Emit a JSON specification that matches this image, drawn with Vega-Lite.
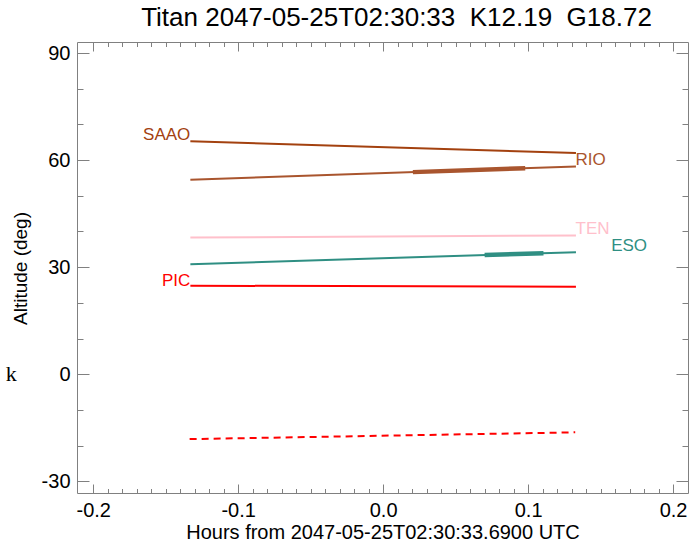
{
  "$schema": "https://vega.github.io/schema/vega-lite/v6.json",
  "width": 611,
  "height": 451,
  "autosize": {"type": "none"},
  "padding": {"left": 77, "top": 42, "right": 12, "bottom": 48},
  "background": "white",
  "title": {"text": "Titan 2047-05-25T02:30:33\u00a0\u00a0K12.19\u00a0\u00a0G18.72", "font": "Liberation Sans", "fontSize": 26, "fontWeight": "normal", "color": "black", "offset": 11, "dx": 14},
  "config": {
    "view": {"stroke": "#808080", "strokeWidth": 1},
    "font": "Liberation Sans",
    "axis": {"grid": false, "domain": false, "tickColor": "#808080", "tickWidth": 1, "labelColor": "black", "titleColor": "black", "titleFontWeight": "normal", "labelFont": "Liberation Sans", "titleFont": "Liberation Sans", "labelFlush": false}
  },
  "datasets": {
    "paths": [
      {"station": "SAAO", "seg": "track", "hours": -0.133, "alt": 65.3},
      {"station": "SAAO", "seg": "track", "hours": 0.133, "alt": 62.0},
      {"station": "RIO", "seg": "track", "hours": -0.133, "alt": 54.5},
      {"station": "RIO", "seg": "track", "hours": 0.133, "alt": 58.2},
      {"station": "RIO", "seg": "obs", "hours": 0.0205, "alt": 56.63},
      {"station": "RIO", "seg": "obs", "hours": 0.098, "alt": 57.71},
      {"station": "TEN", "seg": "track", "hours": -0.133, "alt": 38.3},
      {"station": "TEN", "seg": "track", "hours": 0.133, "alt": 38.9},
      {"station": "ESO", "seg": "track", "hours": -0.133, "alt": 30.8},
      {"station": "ESO", "seg": "track", "hours": 0.133, "alt": 34.2},
      {"station": "ESO", "seg": "obs", "hours": 0.07, "alt": 33.39},
      {"station": "ESO", "seg": "obs", "hours": 0.1106, "alt": 33.92},
      {"station": "PIC", "seg": "track", "hours": -0.133, "alt": 24.8},
      {"station": "PIC", "seg": "track", "hours": 0.133, "alt": 24.5},
      {"station": "PIC", "seg": "below", "hours": -0.1335, "alt": -18.2},
      {"station": "PIC", "seg": "below", "hours": 0.1325, "alt": -16.3}
    ],
    "labels": [
      {"station": "SAAO", "hours": -0.1493, "alt": 67.1},
      {"station": "RIO", "hours": 0.1431, "alt": 59.9},
      {"station": "TEN", "hours": 0.1445, "alt": 40.6},
      {"station": "ESO", "hours": 0.1697, "alt": 35.8},
      {"station": "PIC", "hours": -0.1428, "alt": 26.0}
    ],
    "side": [
      {"text": "k", "hours": -0.2565, "alt": 0}
    ]
  },
  "layer": [
    {
      "mark": {"type": "rule", "color": "#808080", "strokeWidth": 1},
      "encoding": {
        "y": {"datum": 0, "type": "quantitative", "scale": {"domain": [-33.3, 93.1], "nice": false, "zero": false}, "axis": null}
      }
    },
    {
      "data": {"name": "paths"},
      "transform": [{"filter": "datum.seg == 'track'"}],
      "mark": {"type": "line", "strokeWidth": 2},
      "encoding": {
        "x": {
          "field": "hours", "type": "quantitative",
          "scale": {"domain": [-0.2112, 0.2103], "nice": false, "zero": false},
          "axis": {
            "orient": "bottom",
            "title": "Hours from 2047-05-25T02:30:33.6900 UTC",
            "values": [-0.2, -0.1, 0, 0.1, 0.2],
            "labelExpr": "round(datum.value*10) < 0 ? '-' + format(-datum.value, '.1f') : format(abs(datum.value), '.1f')",
            "tickSize": -9,
            "labelFontSize": 20, "titleFontSize": 20, "labelPadding": 16, "titlePadding": 2
          }
        },
        "y": {
          "field": "alt", "type": "quantitative",
          "scale": {"domain": [-33.3, 93.1], "nice": false, "zero": false},
          "axis": {
            "orient": "left",
            "title": "Altitude (deg)",
            "values": [-30, 0, 30, 60, 90],
            "labelExpr": "datum.value < 0 ? '-' + format(-datum.value, 'd') : format(datum.value, 'd')",
            "tickSize": -12,
            "labelFontSize": 20, "titleFontSize": 19, "labelPadding": 19,
            "titleX": -57, "titleY": 226, "titleAngle": -90, "titleAlign": "center", "titleBaseline": "middle"
          }
        },
        "color": {"field": "station", "type": "nominal", "legend": null,
          "scale": {"domain": ["SAAO", "RIO", "TEN", "ESO", "PIC"], "range": ["#A3410F", "#A9552E", "#FFC0CB", "#2F8F83", "#FF0000"]}},
        "detail": {"field": "station"}
      }
    },
    {
      "data": {"name": "paths"},
      "transform": [{"filter": "datum.seg == 'obs'"}],
      "mark": {"type": "line", "strokeWidth": 4.5},
      "encoding": {
        "x": {
          "field": "hours", "type": "quantitative",
          "scale": {"domain": [-0.2112, 0.2103], "nice": false, "zero": false},
          "axis": {
            "orient": "bottom", "title": null, "labels": false,
            "values": [-0.19,-0.18,-0.17,-0.16,-0.15,-0.14,-0.13,-0.12,-0.11,-0.09,-0.08,-0.07,-0.06,-0.05,-0.04,-0.03,-0.02,-0.01,0.01,0.02,0.03,0.04,0.05,0.06,0.07,0.08,0.09,0.11,0.12,0.13,0.14,0.15,0.16,0.17,0.18,0.19],
            "tickSize": -4.5
          }
        },
        "y": {
          "field": "alt", "type": "quantitative",
          "scale": {"domain": [-33.3, 93.1], "nice": false, "zero": false},
          "axis": {
            "orient": "left", "title": null, "labels": false,
            "values": [-20, -10, 10, 20, 40, 50, 70, 80],
            "tickSize": -6
          }
        },
        "color": {"field": "station", "type": "nominal", "legend": null,
          "scale": {"domain": ["SAAO", "RIO", "TEN", "ESO", "PIC"], "range": ["#A3410F", "#A9552E", "#FFC0CB", "#2F8F83", "#FF0000"]}},
        "detail": {"field": "station"}
      }
    },
    {
      "data": {"name": "paths"},
      "transform": [{"filter": "datum.seg == 'below'"}],
      "mark": {"type": "line", "strokeWidth": 2, "strokeDash": [7, 5]},
      "encoding": {
        "x": {
          "field": "hours", "type": "quantitative",
          "scale": {"domain": [-0.2112, 0.2103], "nice": false, "zero": false},
          "axis": {
            "orient": "top", "title": null, "labels": false,
            "values": [-0.2, -0.1, 0, 0.1, 0.2],
            "tickSize": -9
          }
        },
        "y": {
          "field": "alt", "type": "quantitative",
          "scale": {"domain": [-33.3, 93.1], "nice": false, "zero": false},
          "axis": {
            "orient": "right", "title": null, "labels": false,
            "values": [-30, 0, 30, 60, 90],
            "tickSize": -12
          }
        },
        "color": {"field": "station", "type": "nominal", "legend": null,
          "scale": {"domain": ["SAAO", "RIO", "TEN", "ESO", "PIC"], "range": ["#A3410F", "#A9552E", "#FFC0CB", "#2F8F83", "#FF0000"]}},
        "detail": {"field": "station"}
      }
    },
    {
      "data": {"name": "paths"},
      "mark": {"type": "line", "opacity": 0},
      "encoding": {
        "x": {
          "field": "hours", "type": "quantitative",
          "scale": {"domain": [-0.2112, 0.2103], "nice": false, "zero": false},
          "axis": {
            "orient": "top", "title": null, "labels": false,
            "values": [-0.19,-0.18,-0.17,-0.16,-0.15,-0.14,-0.13,-0.12,-0.11,-0.09,-0.08,-0.07,-0.06,-0.05,-0.04,-0.03,-0.02,-0.01,0.01,0.02,0.03,0.04,0.05,0.06,0.07,0.08,0.09,0.11,0.12,0.13,0.14,0.15,0.16,0.17,0.18,0.19],
            "tickSize": -4.5
          }
        },
        "y": {
          "field": "alt", "type": "quantitative",
          "scale": {"domain": [-33.3, 93.1], "nice": false, "zero": false},
          "axis": {
            "orient": "right", "title": null, "labels": false,
            "values": [-20, -10, 10, 20, 40, 50, 70, 80],
            "tickSize": -6
          }
        },
        "detail": {"field": "station"}
      }
    },
    {
      "data": {"name": "labels"},
      "mark": {"type": "text", "fontSize": 17, "font": "Liberation Sans", "align": "center", "baseline": "middle"},
      "encoding": {
        "x": {"field": "hours", "type": "quantitative", "scale": {"domain": [-0.2112, 0.2103], "nice": false, "zero": false}, "axis": null},
        "y": {"field": "alt", "type": "quantitative", "scale": {"domain": [-33.3, 93.1], "nice": false, "zero": false}, "axis": null},
        "text": {"field": "station"},
        "color": {"field": "station", "type": "nominal", "legend": null,
          "scale": {"domain": ["SAAO", "RIO", "TEN", "ESO", "PIC"], "range": ["#A3410F", "#A9552E", "#FFC0CB", "#2F8F83", "#FF0000"]}}
      }
    },
    {
      "data": {"name": "side"},
      "mark": {"type": "text", "fontSize": 22, "font": "Liberation Serif", "align": "center", "baseline": "middle", "color": "black"},
      "encoding": {
        "x": {"field": "hours", "type": "quantitative", "scale": {"domain": [-0.2112, 0.2103], "nice": false, "zero": false}, "axis": null},
        "y": {"field": "alt", "type": "quantitative", "scale": {"domain": [-33.3, 93.1], "nice": false, "zero": false}, "axis": null},
        "text": {"field": "text"}
      }
    }
  ],
  "resolve": {"axis": {"x": "independent", "y": "independent"}}
}
